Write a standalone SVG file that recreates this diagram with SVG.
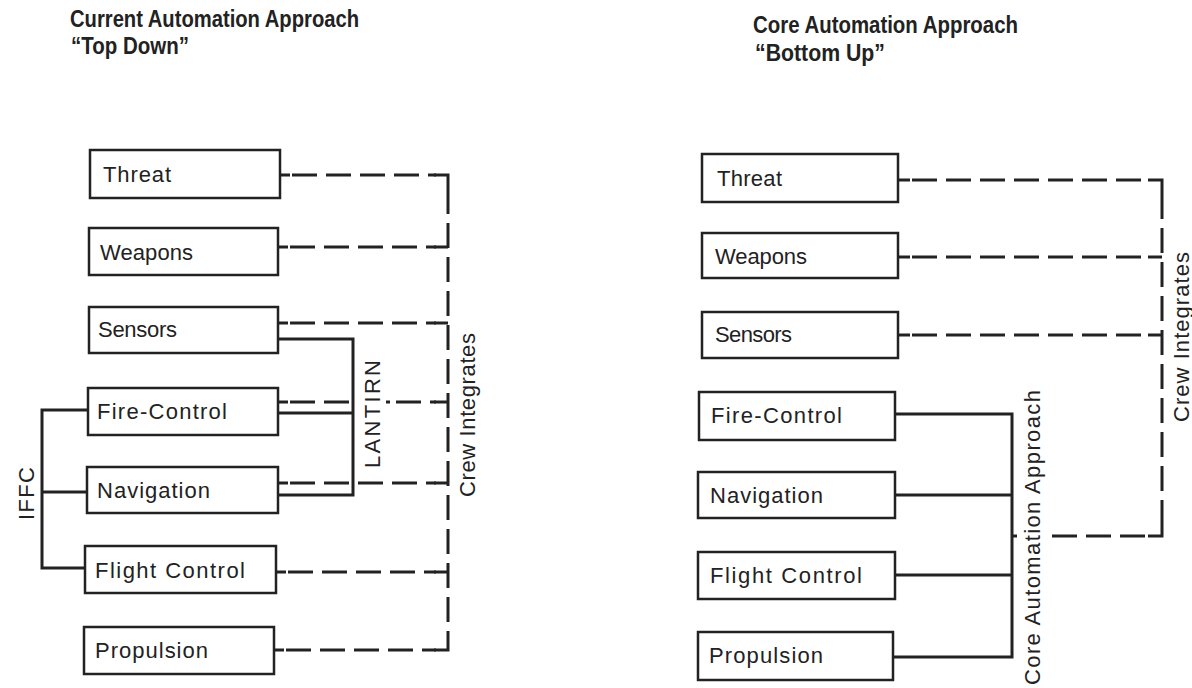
<svg xmlns="http://www.w3.org/2000/svg" width="1192" height="688" viewBox="0 0 1192 688">
<style>
  .box { fill: #fff; stroke: #222; stroke-width: 2.5; }
  .lbl { font-family: "Liberation Sans", Arial, sans-serif; font-size: 22px; fill: #222; }
  .ttl { font-family: "Liberation Sans", Arial, sans-serif; font-size: 23px; font-weight: bold; fill: #222; }
  .d { fill: none; stroke: #222; stroke-width: 3; stroke-dasharray: 25 9; }
  .s { fill: none; stroke: #222; stroke-width: 3; }
</style>
<rect width="1192" height="688" fill="#fff"/>

<g id="titles">
  <text class="ttl" x="70" y="27" textLength="289" lengthAdjust="spacingAndGlyphs">Current Automation Approach</text>
  <text class="ttl" x="71" y="54" textLength="118" lengthAdjust="spacingAndGlyphs">“Top Down”</text>
  <text class="ttl" x="753" y="33" textLength="265" lengthAdjust="spacingAndGlyphs">Core Automation Approach</text>
  <text class="ttl" x="755" y="61" textLength="130" lengthAdjust="spacingAndGlyphs">“Bottom Up”</text>
</g>

<g id="connectors">
  <!-- left: crew integrates (dashed) -->
  <path class="d" d="M292 175 H436"/>
  <path class="d" d="M290 247 H436"/>
  <path class="d" d="M290 323 H436"/>
  <path class="d" d="M290 402 H352"/>
  <path class="d" d="M396 402 H436"/>
  <path class="s" d="M386 402 H390"/>
  <path class="d" d="M290 483 H436"/>
  <path class="d" d="M288 572 H436"/>
  <path class="d" d="M286 650 H436"/>
  <path class="d" d="M448 189 V636"/>
  <path class="s" d="M280 175 H290 M434 175 H448 V189 M278 247 H288 M434 247 H448 M278 323 H288 M434 323 H448 M278 402 H288 M434 402 H448 M278 483 H288 M434 483 H448 M276 572 H286 M434 572 H448 M274 650 H284 M434 650 H448 V636"/>
  <!-- left: LANTIRN (solid) -->
  <path class="s" d="M278 339 H353 V495 H278"/>
  <path class="s" d="M278 413 H353"/>
  <!-- left: IFFC (solid) -->
  <path class="s" d="M88 410 H42 V568 H85"/>
  <path class="s" d="M42 492 H87"/>
  <!-- right: crew integrates (dashed) -->
  <path class="d" d="M912 180 H1150"/>
  <path class="d" d="M912 257 H1150"/>
  <path class="d" d="M912 335 H1150"/>
  <path class="d" d="M1052 536 H1150"/>
  <path class="d" d="M1162 194 V522"/>
  <path class="s" d="M898 180 H910 M1148 180 H1162 V194 M898 257 H910 M1148 257 H1162 M898 335 H910 M1148 335 H1162 M1012 536 H1017 M1148 536 H1162 V522"/>
  <!-- right: core automation (solid) -->
  <path class="s" d="M895 414 H1012 V657 H893"/>
  <path class="s" d="M895 495 H1012"/>
  <path class="s" d="M895 575 H1012"/>
</g>

<g id="connector-labels">
  <text class="lbl" transform="translate(380,468) rotate(-90)" textLength="108" lengthAdjust="spacing">LANTIRN</text>
  <text class="lbl" transform="translate(475,497) rotate(-90)" textLength="164" lengthAdjust="spacing">Crew Integrates</text>
  <text class="lbl" transform="translate(34,520) rotate(-90)" textLength="53" lengthAdjust="spacing">IFFC</text>
  <text class="lbl" transform="translate(1040,685) rotate(-90)" textLength="295" lengthAdjust="spacing">Core Automation Approach</text>
  <text class="lbl" transform="translate(1189,422) rotate(-90)" textLength="170" lengthAdjust="spacing">Crew Integrates</text>
</g>

<g id="L-threat"><rect class="box" x="90" y="150" width="190" height="48"/><text class="lbl" x="103" y="182" textLength="68" lengthAdjust="spacing">Threat</text></g>
<g id="L-weapons"><rect class="box" x="89" y="228" width="189" height="47"/><text class="lbl" x="100" y="260" textLength="93" lengthAdjust="spacing">Weapons</text></g>
<g id="L-sensors"><rect class="box" x="89" y="307" width="189" height="46"/><text class="lbl" x="98" y="337" textLength="79" lengthAdjust="spacing">Sensors</text></g>
<g id="L-firecontrol"><rect class="box" x="88" y="388" width="190" height="47"/><text class="lbl" x="97" y="419" textLength="130" lengthAdjust="spacing">Fire-Control</text></g>
<g id="L-navigation"><rect class="box" x="87" y="467" width="191" height="46"/><text class="lbl" x="97" y="498" textLength="113" lengthAdjust="spacing">Navigation</text></g>
<g id="L-flightcontrol"><rect class="box" x="85" y="546" width="191" height="47"/><text class="lbl" x="95" y="578" textLength="150" lengthAdjust="spacing">Flight Control</text></g>
<g id="L-propulsion"><rect class="box" x="84" y="627" width="190" height="47"/><text class="lbl" x="95" y="658" textLength="113" lengthAdjust="spacing">Propulsion</text></g>

<g id="R-threat"><rect class="box" x="702" y="154" width="196" height="48"/><text class="lbl" x="717" y="186" textLength="65" lengthAdjust="spacing">Threat</text></g>
<g id="R-weapons"><rect class="box" x="702" y="233" width="196" height="45"/><text class="lbl" x="715" y="264" textLength="92" lengthAdjust="spacing">Weapons</text></g>
<g id="R-sensors"><rect class="box" x="702" y="312" width="196" height="46"/><text class="lbl" x="715" y="342" textLength="77" lengthAdjust="spacing">Sensors</text></g>
<g id="R-firecontrol"><rect class="box" x="699" y="392" width="196" height="48"/><text class="lbl" x="711" y="423" textLength="131" lengthAdjust="spacing">Fire-Control</text></g>
<g id="R-navigation"><rect class="box" x="698" y="472" width="197" height="46"/><text class="lbl" x="710" y="503" textLength="113" lengthAdjust="spacing">Navigation</text></g>
<g id="R-flightcontrol"><rect class="box" x="698" y="552" width="197" height="47"/><text class="lbl" x="710" y="583" textLength="152" lengthAdjust="spacing">Flight Control</text></g>
<g id="R-propulsion"><rect class="box" x="698" y="632" width="195" height="48"/><text class="lbl" x="709" y="663" textLength="114" lengthAdjust="spacing">Propulsion</text></g>
</svg>
